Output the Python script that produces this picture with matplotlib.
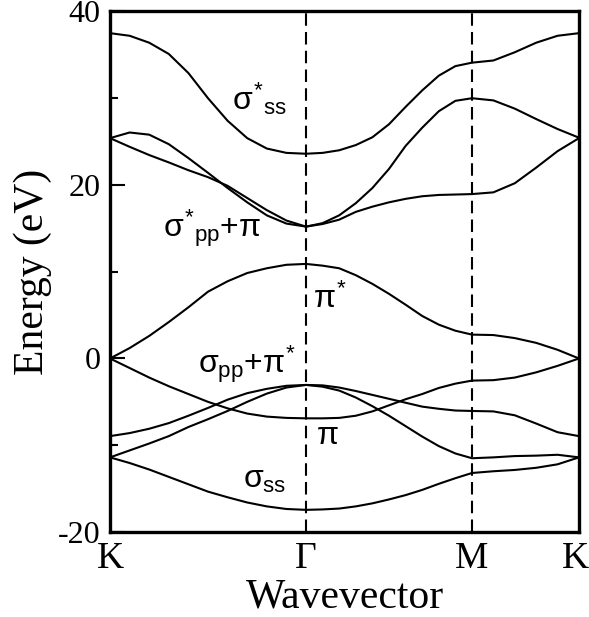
import numpy as np
import matplotlib
matplotlib.use('Agg')
import matplotlib.pyplot as plt
from matplotlib.transforms import ScaledTranslation

# k-path nodes (K, Gamma, M, K), path length
node_k = [0.0, 1.0, 1.847, 2.393]
node_labels = ['K', 'Γ', 'M', 'K']

# sample fractions along each segment
t_kg = np.linspace(0, 1, 11)
t_gm = np.linspace(0, 1, 11)[1:]
t_mk = np.linspace(0, 1, 6)[1:]

# energies (eV), K-G (11), G-M (10), M-K (5)
sigma_ss_star = [37.5, 37.2, 36.4, 35.1, 32.9, 30.0, 27.4, 25.4, 24.2, 23.7, 23.6,
                 23.7, 24.0, 24.6, 25.5, 27.0, 29.0, 30.9, 32.6, 33.7, 34.1,
                 34.35, 35.3, 36.4, 37.2, 37.5]
sigma_pp_star_a = [25.4, 26.05, 25.8, 24.7, 23.1, 21.4, 19.65, 18.0, 16.5, 15.55, 15.2,
                   15.6, 16.5, 17.9, 19.65, 21.85, 24.5, 26.6, 28.5, 29.7, 30.0,
                   29.75, 28.8, 27.6, 26.45, 25.45]
sigma_pp_star_b = [25.4, 24.4, 23.45, 22.6, 21.7, 20.9, 19.9, 18.5, 17.1, 15.9, 15.2,
                   15.5, 16.0, 16.9, 17.5, 18.0, 18.4, 18.7, 18.85, 18.9, 18.95,
                   19.15, 20.2, 22.0, 23.9, 25.4]
pi_star = [0.0, 1.2, 2.6, 4.2, 5.9, 7.7, 8.9, 9.85, 10.4, 10.8, 10.9,
           10.7, 10.4, 9.6, 8.6, 7.45, 6.2, 4.9, 3.9, 3.2, 2.75,
           2.7, 2.35, 1.8, 1.0, 0.0]
pi_band = [0.0, -1.1, -2.2, -3.2, -4.1, -5.0, -5.75, -6.35, -6.7, -6.85, -6.9,
           -6.9, -6.85, -6.6, -6.1, -5.4, -4.7, -4.1, -3.4, -2.9, -2.55,
           -2.5, -2.2, -1.6, -0.85, 0.0]
sigma_pp_a = [-8.95, -8.6, -8.1, -7.45, -6.6, -5.7, -4.75, -4.0, -3.5, -3.15, -3.05,
              -3.1, -3.35, -3.75, -4.2, -4.65, -5.1, -5.55, -5.8, -6.0, -6.05,
              -6.1, -6.55, -7.5, -8.5, -8.95]
sigma_pp_b = [-11.4, -10.6, -9.8, -8.95, -7.9, -7.0, -6.05, -5.0, -4.05, -3.35, -3.05,
              -3.25, -3.7, -4.5, -5.5, -6.6, -7.8, -9.0, -10.1, -10.95, -11.5,
              -11.4, -11.25, -11.2, -11.1, -11.4]
sigma_ss = [-11.4, -12.05, -12.8, -13.65, -14.5, -15.35, -16.0, -16.6, -17.05, -17.35, -17.45,
            -17.4, -17.3, -17.05, -16.7, -16.25, -15.75, -15.15, -14.45, -13.8, -13.2,
            -13.0, -12.85, -12.6, -12.2, -11.4]

bands = [sigma_ss_star, sigma_pp_star_a, sigma_pp_star_b, pi_star,
         pi_band, sigma_pp_a, sigma_pp_b, sigma_ss]

# band labels: (text, k, E at baseline)
band_labels = [
    (r'$\sigma^{*}{}_{\rm ss}$', 0.622, 28.65),
    (r'$\sigma^{*}{}_{\rm pp}{+}\pi$', 0.27, 14.0),
    (r'$\pi^{*}$', 1.036, 5.8),
    (r'$\sigma_{\rm pp}{+}\pi^{*}$', 0.449, -1.67),
    (r'$\pi$', 1.051, -9.86),
    (r'$\sigma_{\rm ss}$', 0.679, -14.9),
]

plt.rcParams['font.family'] = ['Liberation Serif', 'DejaVu Serif']
plt.rcParams['axes.unicode_minus'] = False
plt.rcParams['mathtext.fontset'] = 'custom'
plt.rcParams['mathtext.rm'] = 'Liberation Sans'
plt.rcParams['mathtext.it'] = 'Liberation Sans'
plt.rcParams['mathtext.sf'] = 'Liberation Sans'

kpath = np.concatenate([
    node_k[0] + t_kg * (node_k[1] - node_k[0]),
    node_k[1] + t_gm * (node_k[2] - node_k[1]),
    node_k[2] + t_mk * (node_k[3] - node_k[2]),
])

fig = plt.figure(figsize=(5.89, 6.17), dpi=100)
ax = fig.add_axes([0.1868, 0.1378, 0.7962, 0.8436])

for band in bands:
    ax.plot(kpath, band, color='black', lw=1.5, solid_capstyle='round')

for k in node_k[1:3]:
    ax.axvline(k, color='black', lw=1.5, ls=(0, (6, 3)))

for text, k, e in band_labels:
    ax.text(k, e, text, fontsize=23, ha='left', va='baseline')

ax.set_xlim(node_k[0], node_k[-1])
ax.set_ylim(-20, 40)
ax.set_xticks(node_k)
ax.set_xticklabels(node_labels)
ax.set_yticks([-20, 0, 20, 40])
ax.set_yticks([-10, 10, 30], minor=True)
ax.tick_params(axis='x', length=0, labelsize=27, pad=7)
ax.tick_params(axis='y', which='major', direction='in', length=11, width=1.5,
               labelsize=23, pad=7)
ax.tick_params(axis='y', which='minor', direction='in', length=6, width=1.5)
for s in ax.spines.values():
    s.set_linewidth(2.4)

# keep the last K inside the figure
last = ax.get_xticklabels()[-1]
last.set_transform(last.get_transform() + ScaledTranslation(-0.04, 0, fig.dpi_scale_trans))

ax.set_xlabel('Wavevector', fontsize=30, labelpad=1)
ax.set_ylabel('Energy (eV)', fontsize=30, labelpad=4)

fig.savefig('out.png', dpi=100)
